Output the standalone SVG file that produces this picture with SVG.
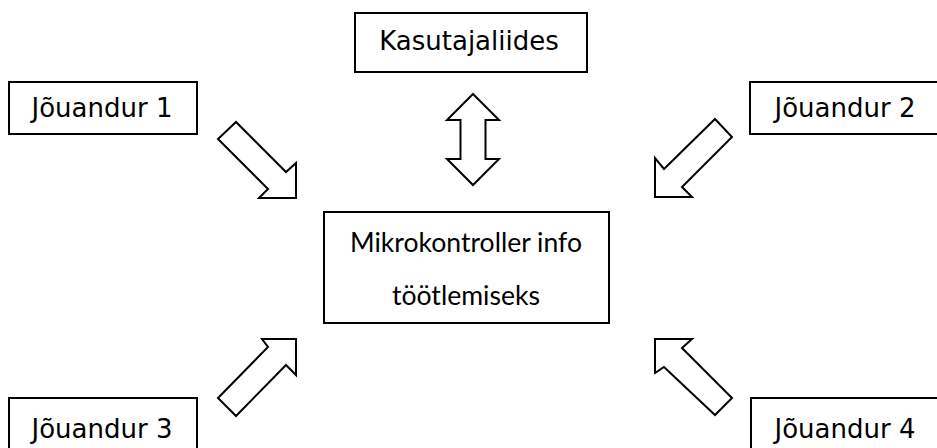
<svg xmlns="http://www.w3.org/2000/svg" width="937" height="448" viewBox="0 0 937 448">
<style>
.box{fill:#fff;stroke:#000;stroke-width:2}
.arr{fill:#fff;stroke:#000;stroke-width:2;stroke-linejoin:miter}
.t{font-family:"DejaVu Sans",Verdana,sans-serif;font-size:26px;fill:#000;text-anchor:middle}
.c{font-family:Lato,"Liberation Sans",sans-serif;font-size:27px;fill:#000;text-anchor:middle}
</style>
<rect width="937" height="448" fill="#fff"/>
<g id="kasutajaliides">
<rect class="box" x="355" y="13" width="232" height="59"/>
<text class="t" x="469" y="50">Kasutajaliides</text>
</g>
<g id="jouandur1">
<rect class="box" x="9" y="82" width="188" height="52"/>
<text class="t" x="102" y="117">Jõuandur 1</text>
</g>
<g id="jouandur2">
<rect class="box" x="750" y="82" width="200" height="52"/>
<text class="t" x="845" y="117">Jõuandur 2</text>
</g>
<g id="mikrokontroller">
<rect class="box" x="324" y="212" width="285" height="111"/>
<text class="c" x="466" y="252" textLength="232" lengthAdjust="spacingAndGlyphs">Mikrokontroller info</text>
<text class="c" x="466" y="305" textLength="148" lengthAdjust="spacingAndGlyphs">töötlemiseks</text>
</g>
<g id="jouandur3">
<rect class="box" x="9" y="398" width="188" height="60"/>
<text class="t" x="102" y="438">Jõuandur 3</text>
</g>
<g id="jouandur4">
<rect class="box" x="751" y="398" width="200" height="60"/>
<text class="t" x="845" y="438">Jõuandur 4</text>
</g>
<g id="connectors">
<path class="arr" d="M473,94 L499,120 L485.5,120 L485.5,159 L499,159 L473,185 L447,159 L460.5,159 L460.5,120 L447,120 Z"/>
<path class="arr" d="M296,198 L296,163 L286,172 L236,122 L218,139 L268,189 L259,198 Z"/>
<path class="arr" d="M655,197 L655,158 L664,169 L715,119 L732,137 L682,187 L692,197 Z"/>
<path class="arr" d="M296,339 L262,339 L268,347 L218,398 L236,416 L286,365 L296,375 Z"/>
<path class="arr" d="M655,339 L692,339 L682,348 L732,398 L715,415 L664,367 L655,373 Z"/>
</g>
</svg>
